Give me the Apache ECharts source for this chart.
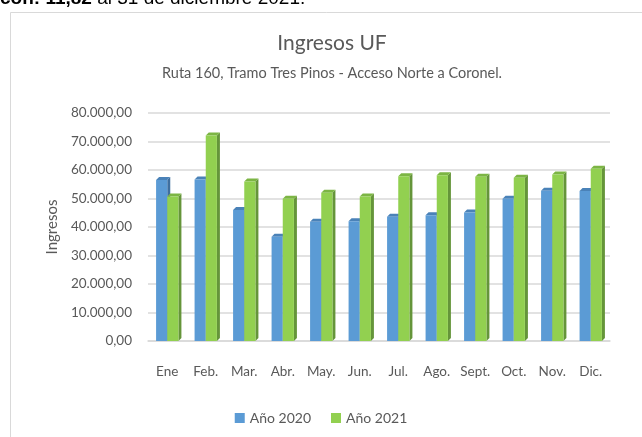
<!DOCTYPE html>
<html>
<head>
<meta charset="utf-8">
<script src="https://cdn.jsdelivr.net/npm/echarts@6/dist/echarts.min.js"></script>
<style>
html,body{margin:0;padding:0;background:#fff;}
#chart{width:642px;height:437px;}
</style>
</head>
<body>
<div id="chart"></div>
<script>
const categories = ['Ene','Feb.','Mar.','Abr.','May.','Jun.','Jul.','Ago.','Sept.','Oct.','Nov.','Dic.'];
const seriesNames = ['Año 2020','Año 2021'];
const values2020 = [56500, 56700, 46000, 36600, 41800, 42000, 43600, 44100, 45100, 49900, 52700, 52600];
const values2021 = [50700, 72100, 56000, 49900, 52000, 50700, 57800, 58200, 57600, 57300, 58400, 60400];
const yTicks = {min: 0, max: 80000, interval: 10000};

const palettes = [
  {front:'#5b9bd5', side:'#3f6f9f', top:'#4a82b8'},
  {front:'#92d050', side:'#65953a', top:'#7cb544'}
];

function fmt(v){
  const s = Math.round(v).toString().replace(/\B(?=(\d{3})+(?!\d))/g,'.');
  return s + ',00';
}

function makeRender(si){
  return function(params, api){
    const xi = api.value(0), yv = api.value(1);
    const base = api.coord([xi, 0]);
    const topP = api.coord([xi, yv]);
    const band = api.size([1,0])[0];
    const w = band * 0.29;
    const x0 = si === 0 ? base[0] - w : base[0];
    const x1 = x0 + w;
    const yb = base[1], yt = topP[1];
    const d = 3;
    const pal = palettes[si];
    return {
      type:'group',
      children:[
        {type:'polygon', shape:{points:[[x1,yb],[x1+d,yb-d],[x1+d,yt-d],[x1,yt]]}, style:{fill:pal.side}},
        {type:'polygon', shape:{points:[[x0,yt],[x0+d,yt-d],[x1+d,yt-d],[x1,yt]]}, style:{fill:pal.top}},
        {type:'rect', shape:{x:x0, y:yt, width:w, height:yb-yt}, style:{fill:pal.front}}
      ]
    };
  };
}

const chart = echarts.init(document.getElementById('chart'), null, {renderer:'canvas'});
chart.setOption({
  animation:false,
  backgroundColor:'#fff',
  textStyle:{fontFamily:'Lato'},
  title:{
    text:'Ingresos UF',
    subtext:'Ruta 160, Tramo Tres Pinos - Acceso Norte a Coronel.',
    left: 327, textAlign:'center', top:28,
    itemGap:12,
    textStyle:{fontFamily:'Lato', fontSize:21, fontWeight:'normal', color:'#595959'},
    subtextStyle:{fontFamily:'Lato', fontSize:14.5, color:'#595959'}
  },
  graphic:[
    {type:'rect', left:8, top:10, shape:{width:700, height:500}, style:{fill:'none', stroke:'#d9d9d9', lineWidth:1}},
    {type:'text', left:0, top:-11, style:{
      text:'{b|con: 11,82} {n|al 31 de diciembre 2021.}',
      rich:{
        b:{font:'bold 19px "Liberation Sans"', fill:'#000', color:'#000'},
        n:{font:'19px "Liberation Sans"', fill:'#000', color:'#000'}
      },
      font:'19px "Liberation Sans"', fill:'#000'}}
  ],
  legend:{
    data:seriesNames,
    top:406, left:'center',
    itemWidth:10, itemHeight:10, itemGap:20,
    icon:'rect',
    textStyle:{fontFamily:'Lato', fontSize:14, color:'#595959'}
  },
  grid:{left:148, right:32, top:113, bottom:96},
  xAxis:{
    type:'category', data:categories,
    axisLine:{show:true, lineStyle:{color:'#d9d9d9', width:1.5}},
    axisTick:{show:false},
    axisLabel:{interval:0, margin:24, fontFamily:'Lato', fontSize:13.5, color:'#595959'}
  },
  yAxis:{
    type:'value', min:yTicks.min, max:yTicks.max, interval:yTicks.interval,
    name:'Ingresos', nameLocation:'middle', nameGap:86,
    nameTextStyle:{fontFamily:'Lato', fontSize:15, color:'#595959'},
    axisLine:{show:false}, axisTick:{show:false},
    axisLabel:{margin:16, fontFamily:'Lato', fontSize:13.5, color:'#595959', formatter:fmt},
    splitLine:{lineStyle:{color:'#d9d9d9', width:1.5}}
  },
  series:[
    {name:seriesNames[0], type:'custom', renderItem:makeRender(0), itemStyle:{color:palettes[0].front},
     encode:{x:0,y:1}, data:values2020.map((v,i)=>[i,v])},
    {name:seriesNames[1], type:'custom', renderItem:makeRender(1), itemStyle:{color:palettes[1].front},
     encode:{x:0,y:1}, data:values2021.map((v,i)=>[i,v])}
  ]
});
</script>
</body>
</html>
